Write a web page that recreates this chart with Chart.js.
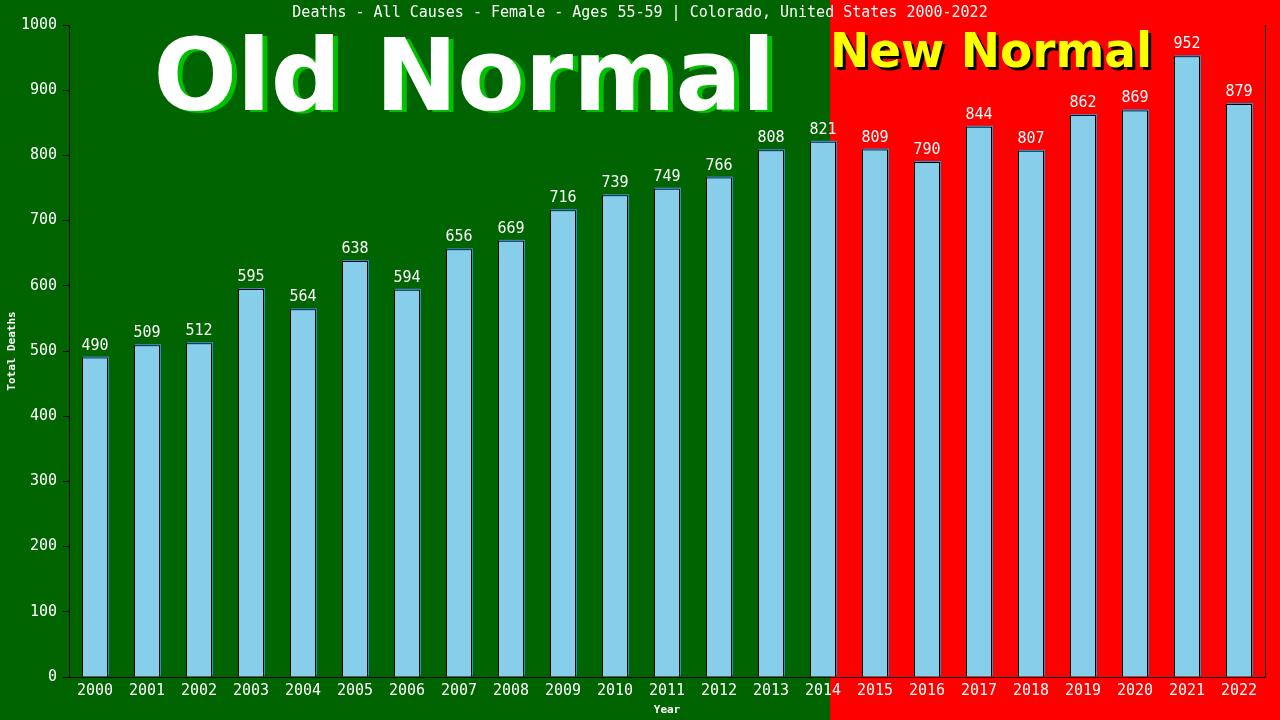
<!DOCTYPE html>
<html>
<head>
<meta charset="utf-8">
<script src="https://cdn.jsdelivr.net/npm/chart.js@4"></script>
<style>
html,body{margin:0;padding:0;background:#006400;}
#wrap{width:1280px;height:720px;position:relative;}
</style>
</head>
<body>
<div id="wrap"><canvas id="c" width="1280" height="720"></canvas></div>
<script>
const years = ["2000","2001","2002","2003","2004","2005","2006","2007","2008","2009","2010","2011","2012","2013","2014","2015","2016","2017","2018","2019","2020","2021","2022"];
const deaths = [490,509,512,595,564,638,594,656,669,716,739,749,766,808,821,809,790,844,807,862,869,952,879];
const titleText = "Deaths - All Causes - Female - Ages 55-59 | Colorado, United States 2000-2022";
const yTitle = "Total Deaths";
const xTitle = "Year";
const oldLabel = "Old Normal";
const newLabel = "New Normal";

const GREEN = "#006400";
const RED = "#ff0000";
const MONO = "'DejaVu Sans Mono', 'Liberation Mono', monospace";

const bgPlugin = {
  id: 'bg',
  beforeDraw(chart) {
    const ctx = chart.ctx;
    const xs = chart.scales.x;
    const split = xs.getPixelForValue(14) + (xs.getPixelForValue(15) - xs.getPixelForValue(14)) * 0.135;
    ctx.save();
    ctx.fillStyle = GREEN;
    ctx.fillRect(0, 0, chart.width, chart.height);
    ctx.fillStyle = RED;
    ctx.fillRect(split, 0, chart.width - split, chart.height);
    ctx.fillStyle = "#ffffff";
    ctx.font = "15px " + MONO;
    ctx.textAlign = "center";
    ctx.textBaseline = "middle";
    ctx.fillText(titleText, chart.width / 2, 13);
    ctx.font = "bold 100px 'DejaVu Sans', sans-serif";
    ctx.textAlign = "center";
    ctx.textBaseline = "alphabetic";
    const oc = (chart.chartArea.left + split) / 2 + 15;
    ctx.fillStyle = "#00c000";
    ctx.fillText(oldLabel, oc + 5, 110 + 2, 622);
    ctx.fillStyle = "#ffffff";
    ctx.fillText(oldLabel, oc, 110, 622);
    ctx.font = "bold 48px 'DejaVu Sans', sans-serif";
    ctx.textAlign = "left";
    ctx.fillStyle = "#000000";
    ctx.fillText(newLabel, split + 3, 67 + 3, 322);
    ctx.fillStyle = "#ffff00";
    ctx.fillText(newLabel, split, 67, 322);
    ctx.restore();
  },
  beforeDatasetsDraw(chart) {
    const ctx = chart.ctx;
    const meta = chart.getDatasetMeta(0);
    ctx.save();
    ctx.fillStyle = "#3a8cc0";
    meta.data.forEach((bar) => {
      const w = bar.width;
      ctx.fillRect(bar.x - w / 2 + 1, bar.y - 1, w, bar.base - bar.y);
    });
    ctx.restore();
  },
  afterDatasetsDraw(chart) {
    const ctx = chart.ctx;
    const a = chart.chartArea;
    ctx.save();
    ctx.strokeStyle = "#000";
    ctx.lineWidth = 1;
    ctx.beginPath();
    ctx.moveTo(Math.round(a.right) + 0.5, a.top);
    ctx.lineTo(Math.round(a.right) + 0.5, a.bottom);
    ctx.stroke();
    const meta = chart.getDatasetMeta(0);
    ctx.fillStyle = "#ffffff";
    ctx.font = "15px " + MONO;
    ctx.textAlign = "center";
    ctx.textBaseline = "alphabetic";
    meta.data.forEach((bar, i) => {
      ctx.fillText(String(deaths[i]), bar.x, bar.y - 8);
    });
    ctx.restore();
  }
};

new Chart(document.getElementById('c'), {
  type: 'bar',
  data: {
    labels: years,
    datasets: [{
      data: deaths,
      backgroundColor: "#87ceeb",
      borderColor: "#000000",
      borderWidth: 1,
      barPercentage: 0.5,
      categoryPercentage: 1.0
    }]
  },
  options: {
    responsive: false,
    animation: false,
    devicePixelRatio: 1,
    layout: { padding: { top: 25, right: 15, left: 0, bottom: 3 } },
    plugins: { legend: { display: false }, title: { display: false }, tooltip: { enabled: false } },
    scales: {
      x: {
        grid: { display: false, drawTicks: false },
        border: { display: true, color: "#000", width: 1 },
        ticks: { color: "#fff", font: { family: MONO, size: 15 }, padding: 5, maxRotation: 0, autoSkip: false },
        title: { display: true, text: xTitle, color: "#fff", font: { family: MONO, size: 11, weight: 'bold' }, padding: { top: 0, bottom: 0 } },
        afterFit(s) { s.height = 40; }
      },
      y: {
        min: 0, max: 1000,
        grid: { display: true, drawOnChartArea: false, drawTicks: true, tickLength: 6, color: "#000" },
        border: { display: true, color: "#000", width: 1 },
        ticks: { stepSize: 100, color: "#fff", font: { family: MONO, size: 15 }, padding: 6, callback: (v) => String(v) },
        title: { display: true, text: yTitle, color: "#fff", font: { family: MONO, size: 11, weight: 'bold' }, padding: { top: 6, bottom: 0 } },
        afterFit(s) { s.width = 69; }
      }
    }
  },
  plugins: [bgPlugin]
});
</script>
</body>
</html>
